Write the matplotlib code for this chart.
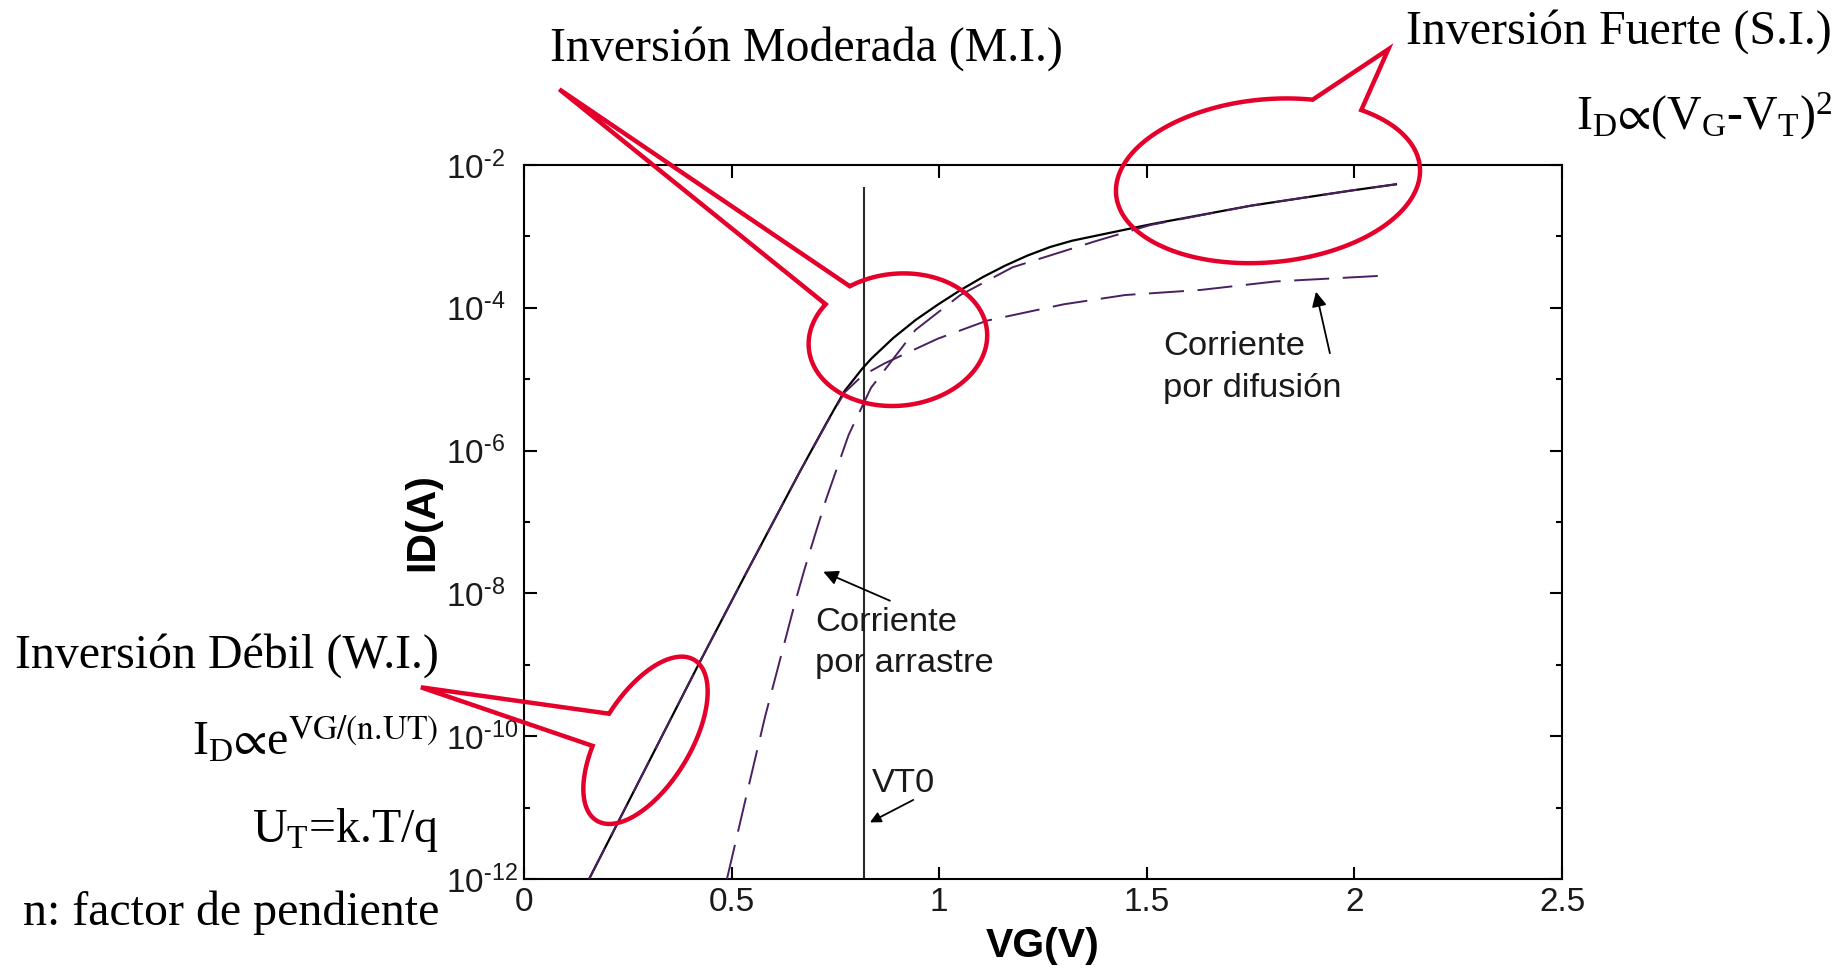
import numpy as np
import matplotlib
matplotlib.use('Agg')
import matplotlib.pyplot as plt
from matplotlib.patches import Polygon
from matplotlib.ticker import FixedLocator, FixedFormatter, NullFormatter

plt.rcParams.update({
    'font.family': ['Liberation Sans', 'DejaVu Sans'],
    'mathtext.fontset': 'stix',
    'mathtext.default': 'regular',
    'axes.linewidth': 1.5,
})

# total drain current (black), VG in V, ID in A
vg_total = [0.157, 0.30, 0.422, 0.535, 0.664, 0.728, 0.772, 0.815, 0.837, 0.89,
            0.944, 0.998, 1.052, 1.105, 1.159, 1.213, 1.267, 1.32, 1.51, 1.75,
            1.99, 2.10]
id_total = [1.0e-12, 4.27e-11, 1.05e-9, 1.91e-8, 5.0e-7, 2.4e-6, 6.8e-6, 1.41e-5,
            1.95e-5, 3.8e-5, 6.8e-5, 1.12e-4, 1.78e-4, 2.69e-4, 3.9e-4, 5.4e-4,
            7.1e-4, 8.7e-4, 1.48e-3, 2.69e-3, 4.37e-3, 5.37e-3]

# diffusion component
vg_diff = [0.157, 0.30, 0.422, 0.535, 0.664, 0.728, 0.772, 0.815, 0.868, 0.997,
           1.115, 1.30, 1.448, 1.63, 1.81, 2.07]
id_diff = [1.0e-12, 4.27e-11, 1.05e-9, 1.91e-8, 5.0e-7, 2.35e-6, 6.5e-6, 1.12e-5,
           1.66e-5, 3.7e-5, 6.6e-5, 1.12e-4, 1.51e-4, 1.78e-4, 2.34e-4, 2.82e-4]

# drift component
vg_drift = [0.489, 0.535, 0.581, 0.609, 0.652, 0.675, 0.701, 0.728, 0.782, 0.836,
            0.943, 1.051, 1.177, 1.38, 1.51, 1.75, 1.99, 2.10]
id_drift = [1.0e-12, 1.4e-11, 1.9e-10, 7.9e-10, 7.1e-9, 2.1e-8, 6.6e-8, 2.1e-7,
            1.66e-6, 7.6e-6, 4.9e-5, 1.51e-4, 3.7e-4, 8.7e-4, 1.45e-3, 2.69e-3,
            4.37e-3, 5.37e-3]

vt0 = 0.819
vt0_top = 5.0e-3

x_ticks = [0, 0.5, 1, 1.5, 2, 2.5]
x_tick_labels = ['0', '0.5', '1', '1.5', '2', '2.5']
y_major_exp = [-12, -10, -8, -6, -4, -2]
y_minor_exp = [-11, -9, -7, -5, -3]

SERIF = ['Liberation Serif', 'DejaVu Serif']
RED = '#e4002b'
PURPLE = '#4a2060'
W, H = 1837, 969

fig = plt.figure(figsize=(W / 100, H / 100), dpi=100)
ax = fig.add_axes([0.2852, 0.0929, 0.5651, 0.7368])
ax.set_yscale('log')
ax.set_xlim(0, 2.5)
ax.set_ylim(1e-12, 1e-2)

ax.plot(vg_total, id_total, color='black', lw=1.6, zorder=3)
ax.plot(vg_diff, id_diff, color=PURPLE, lw=1.4, dashes=(18, 7), zorder=4)
ax.plot(vg_drift, id_drift, color=PURPLE, lw=1.4, dashes=(18, 7), zorder=4)
ax.vlines(vt0, 1e-12, vt0_top, color='#2b2b2b', lw=1.5, zorder=2)

ax.xaxis.set_major_locator(FixedLocator(x_ticks))
ax.xaxis.set_major_formatter(FixedFormatter(x_tick_labels))
ax.yaxis.set_major_locator(FixedLocator([10.0 ** e for e in y_major_exp]))
ax.yaxis.set_major_formatter(FixedFormatter(
    [r'$10^{\text{-}%d}$' % -e for e in y_major_exp]))
ax.yaxis.set_minor_locator(FixedLocator([10.0 ** e for e in y_minor_exp]))
ax.yaxis.set_minor_formatter(NullFormatter())
ax.tick_params(which='both', direction='in', top=True, right=True, width=1.5,
               labelsize=24, labelcolor='#1a1a1a')
ax.tick_params(which='major', length=9)
ax.tick_params(which='minor', length=4)
ax.tick_params(axis='x', pad=6)
# y labels start at a common left edge
ax.tick_params(axis='y', pad=56)
for lbl in ax.get_yticklabels():
    lbl.set_horizontalalignment('left')

ax.set_xlabel('VG(V)', fontsize=29.5, fontweight='bold')
ax.xaxis.set_label_coords(0.5, -0.067)
ax.set_ylabel('ID(A)', fontsize=29.5, fontweight='bold')
ax.yaxis.set_label_coords(-0.080, 0.5)

# curve annotations
txt_kw = dict(fontsize=24.8, color='#1a1a1a', ha='left', va='top', linespacing=1.45)
ax.text(0.701, 10 ** -8.186, 'Corriente\npor arrastre', **txt_kw)
ax.text(1.539, 10 ** -4.33, 'Corriente\npor difusión', **txt_kw)
ax.text(0.837, 10 ** -10.45, 'VT0', **txt_kw)
arr = dict(arrowstyle='-|>', color='black', lw=1.3, shrinkA=0, shrinkB=0,
           mutation_scale=22)
ax.annotate('', xy=(0.721, 2.01e-8), xytext=(0.8815, 7.9e-9), arrowprops=arr)
ax.annotate('', xy=(1.9075, 1.68e-4), xytext=(1.941, 2.31e-5), arrowprops=arr)
ax.annotate('', xy=(0.8333, 6.2e-12), xytext=(0.9377, 1.28e-11),
            arrowprops=dict(arr, mutation_scale=16))

# overlay in pixel coordinates for the callouts
ov = fig.add_axes([0, 0, 1, 1], zorder=5)
ov.set_xlim(0, W)
ov.set_ylim(H, 0)
ov.axis('off')


def bubble(cx, cy, w, h, angle, base1, base2, tip):
    a, b = w / 2, h / 2
    th = np.radians(angle)

    def pt(t):
        x = cx + a * np.cos(t) * np.cos(th) - b * np.sin(t) * np.sin(th)
        y = cy - (a * np.cos(t) * np.sin(th) + b * np.sin(t) * np.cos(th))
        return x, y

    def param(p):
        dx, dy = p[0] - cx, cy - p[1]
        u = dx * np.cos(th) + dy * np.sin(th)
        v = -dx * np.sin(th) + dy * np.cos(th)
        return np.arctan2(v / b, u / a) % (2 * np.pi)

    t1, t2 = param(base1), param(base2)
    d = (t2 - t1) % (2 * np.pi)
    if d < np.pi:
        ts = np.linspace(t2, t1 + 2 * np.pi, 300)
    else:
        ts = np.linspace(t1, t1 + d, 300)
    xs, ys = pt(ts)
    verts = [tip] + list(zip(xs, ys))
    ov.add_patch(Polygon(verts, closed=True, fill=False, edgecolor=RED, lw=3.2,
                         joinstyle='miter'))


bubble(897.9, 339.7, 179, 132, 6, (850.2, 286.7), (827.2, 305), (559.3, 89.3))
bubble(1268, 180.8, 305, 163, 5.3, (1313, 99), (1362.7, 109), (1388.3, 49.3))
bubble(645.5, 740.3, 188, 90, 58.7, (612.2, 716), (594.4, 745.7), (420.9, 687.3))

ser = dict(family=SERIF, fontsize=34.5, color='black', va='baseline')
ov.text(550, 61, 'Inversión Moderada (M.I.)', ha='left', **ser)
ov.text(1406, 44, 'Inversión Fuerte (S.I.)', ha='left', **ser)
ov.text(1832, 130, r'$I_D∝(V_G$-$V_T)^2$', ha='right', **ser)
ov.text(439, 668, 'Inversión Débil (W.I.)', ha='right', **ser)
ov.text(438, 755, r'$I_D∝e^{\text{VG/(n.UT)}}$', ha='right', **ser)
ov.text(439, 842, r'$U_T$=k.T/q', ha='right', **ser)
ov.text(439, 925, 'n: factor de pendiente', ha='right', **ser)

fig.savefig('out.png', dpi=100)
